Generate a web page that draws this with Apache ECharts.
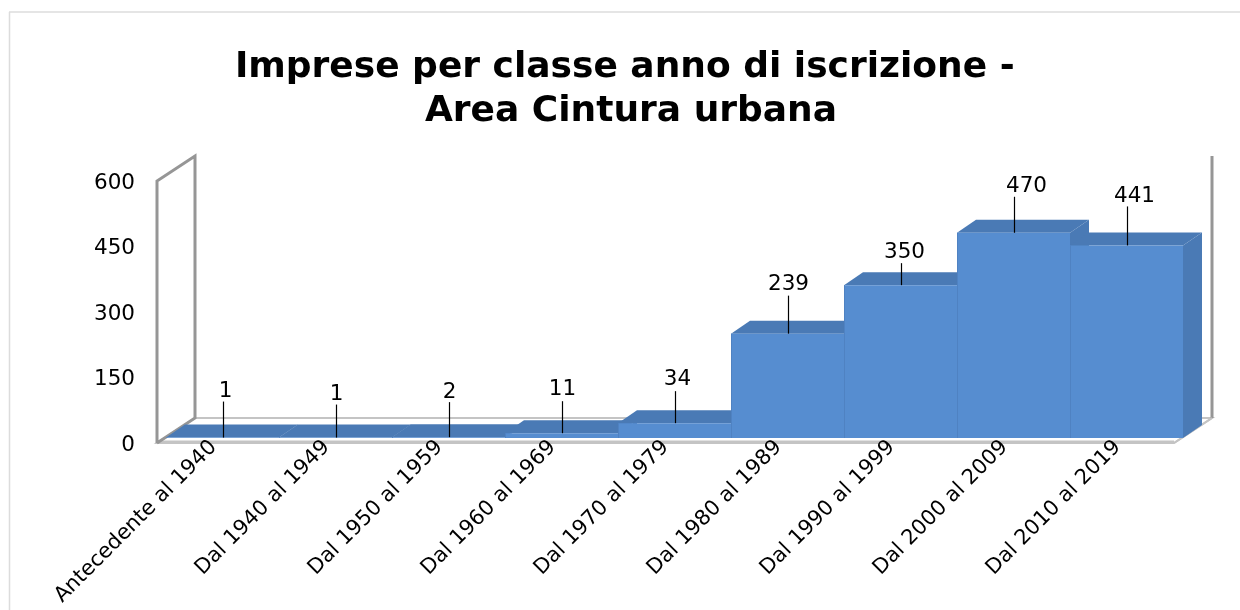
<!DOCTYPE html>
<html><head><meta charset="utf-8">
<style>html,body{margin:0;padding:0;background:#fff}#c{width:1240px;height:610px}</style>
<script src="https://cdn.jsdelivr.net/npm/echarts@6/dist/echarts.min.js"></script>
</head><body><div id="c"></div>
<script>
var categories = ['Antecedente al 1940','Dal 1940 al 1949','Dal 1950 al 1959','Dal 1960 al 1969','Dal 1970 al 1979','Dal 1980 al 1989','Dal 1990 al 1999','Dal 2000 al 2009','Dal 2010 al 2019'];
var values = [1,1,2,11,34,239,350,470,441];
var yTicks = {min:0,max:600,interval:150};
var titleText = 'Imprese per classe anno di iscrizione - \nArea Cintura urbana';
// leader-line lengths and label nudges (layout only)
var leaderLen = [36,33,35,32,32,38,22,36,39];
var labelDx = [2,0,0,0,2,0,3,12,7];
var labelDy = [0,0,0,-2,-2,-1,-1,0,0];

var FONT = '"DejaVu Sans"';
var FRONT = [9,-5], DEPTH = [19,-13], WALL = [38,-25];
var C_FRONT = '#568dd0', C_DARK = '#4a7ab5';

function poly(pts, style, z2){ return {type:'polygon', shape:{points:pts}, style:style, z2:z2||0}; }

var chart = echarts.init(document.getElementById('c'), null, {renderer:'canvas'});
chart.setOption({
  animation:false,
  backgroundColor:'#fff',
  graphic:[
    {type:'line', shape:{x1:9.5,y1:12,x2:9.5,y2:610}, style:{stroke:'#dcdcdc',lineWidth:1.5}, silent:true},
    {type:'line', shape:{x1:9,y1:12,x2:1240,y2:12}, style:{stroke:'#dcdcdc',lineWidth:1.5}, silent:true}
  ],
  title:{text:titleText,left:626,top:41,textAlign:'center',
    textStyle:{fontFamily:FONT,fontWeight:'bold',fontSize:36,lineHeight:44,color:'#000'}},
  grid:{left:157,width:1017,top:181,height:262,containLabel:false},
  xAxis:{type:'category',data:categories,boundaryGap:true,z:6,
    axisLine:{show:false},axisTick:{show:false},
    axisLabel:{interval:0,rotate:45,margin:1,fontFamily:FONT,fontSize:21,color:'#000',align:'right',verticalAlign:'middle'}},
  yAxis:{type:'value',min:yTicks.min,max:yTicks.max,interval:yTicks.interval,
    axisLine:{show:false},axisTick:{show:false},splitLine:{show:false},
    axisLabel:{margin:22,fontFamily:FONT,fontSize:21.5,color:'#000',verticalAlign:'top',lineHeight:4}},
  series:[
    {type:'custom',name:'frame',coordinateSystem:'cartesian2d',silent:true,clip:false,z:1,
     data:[[0,0]],
     renderItem:function(p,api){
       var band=api.size([1,0])[0];
       var o=api.coord([0,yTicks.min]), t=api.coord([0,yTicks.max]);
       var xl=o[0]-band/2, xr=xl+band*categories.length, yb=o[1], yt=t[1];
       var wx=WALL[0], wy=WALL[1];
       var g='#969696', lg='#c4c4c4';
       return {type:'group',children:[
         poly([[xl,yb],[xl+wx,yb+wy],[xr+wx,yb+wy],[xr,yb]],{fill:'#fff',stroke:lg,lineWidth:2}),
         {type:'line',shape:{x1:xl,y1:yb-1,x2:xr,y2:yb-1},style:{stroke:lg,lineWidth:3}},
         {type:'polyline',shape:{points:[[xl,yb],[xl,yt],[xl+wx,yt+wy],[xl+wx,yb+wy],[xl,yb]]},style:{fill:null,stroke:g,lineWidth:3}},
         {type:'line',shape:{x1:xr+wx,y1:yt+wy,x2:xr+wx,y2:yb+wy},style:{stroke:g,lineWidth:3}},
         {type:'line',shape:{x1:xr,y1:yb,x2:xr+wx,y2:yb+wy},style:{stroke:lg,lineWidth:2}}
       ]};
     }},
    {type:'custom',name:'Imprese',coordinateSystem:'cartesian2d',clip:false,z:2,
     data:values.map(function(v,i){return [i,v];}),
     encode:{x:0,y:1},
     renderItem:function(p,api){
       var i=api.value(0), v=api.value(1);
       var band=api.size([1,0])[0];
       var c=api.coord([i,v]), b=api.coord([i,0]);
       var x0=c[0]-band/2+FRONT[0], x1=x0+band, yt=c[1]+FRONT[1], yb=b[1]+FRONT[1];
       var dx=DEPTH[0], dy=DEPTH[1];
       var dk={fill:C_DARK};
       return {type:'group',children:[
         poly([[x1,yb],[x1+dx,yb+dy],[x1+dx,yt+dy],[x1,yt]],dk),
         poly([[x0,yt],[x0+dx,yt+dy],[x1+dx,yt+dy],[x1,yt]],dk),
         {type:'rect',shape:{x:x0,y:yt,width:band,height:yb-yt},style:{fill:C_FRONT}},
         {type:'line',shape:{x1:x0+.5,y1:yt,x2:x0+.5,y2:yb},style:{stroke:'#4f82c2',lineWidth:1}}
       ]};
     }},
    {type:'custom',name:'Etichette',coordinateSystem:'cartesian2d',clip:false,z:3,silent:true,
     data:values.map(function(v,i){return [i,v];}),
     encode:{x:0,y:1},
     renderItem:function(p,api){
       var i=api.value(0), v=api.value(1);
       var c=api.coord([i,v]);
       var x=Math.round(c[0]+FRONT[0])+.5, y=c[1]+FRONT[1], L=leaderLen[i];
       return {type:'group',children:[
         {type:'line',shape:{x1:x,y1:y,x2:x,y2:y-L},style:{stroke:'#000',lineWidth:1.2}},
         {type:'text',style:{text:String(v),x:x+labelDx[i],y:y-L+1+labelDy[i],align:'center',verticalAlign:'bottom',
           font:'21.5px '+FONT,fill:'#000'}}
       ]};
     }}
  ]
});
</script></body></html>
